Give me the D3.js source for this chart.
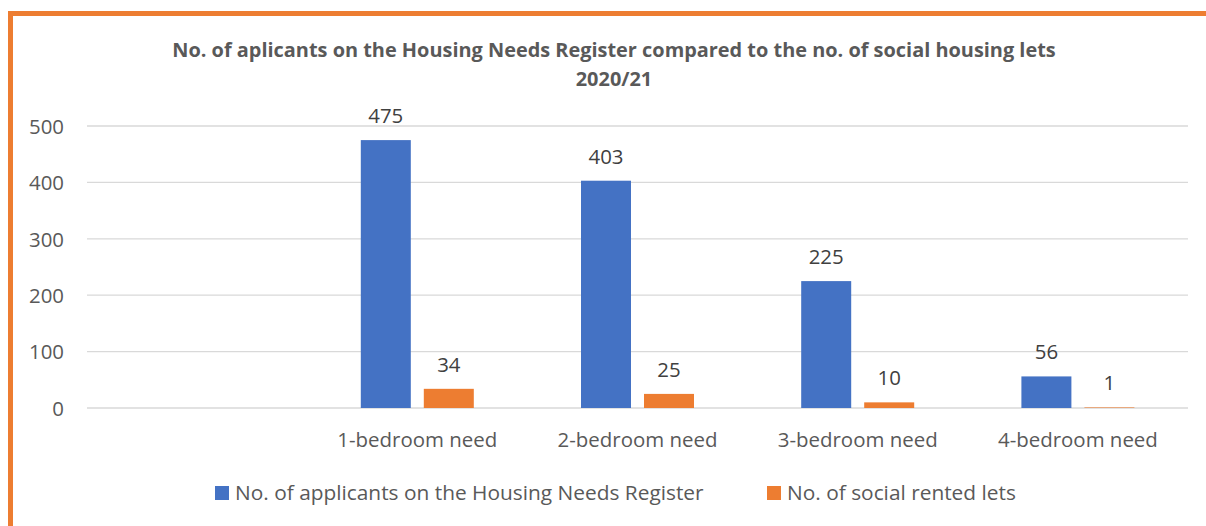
<!DOCTYPE html>
<html><head><meta charset="utf-8">
<script src="https://cdn.jsdelivr.net/npm/d3@7"></script>
<style>body{margin:0;background:#fff}svg{display:block}</style>
</head><body>
<svg id="c" width="1206" height="526"></svg>
<script>
const categories = ["", "1-bedroom need", "2-bedroom need", "3-bedroom need", "4-bedroom need"];
const seriesNames = ["No. of applicants on the Housing Needs Register", "No. of social rented lets"];
const applicants = [null, 475, 403, 225, 56];
const lets = [null, 34, 25, 10, 1];
const yTicks = [0, 100, 200, 300, 400, 500];
const titleLines = ["No. of aplicants on the Housing Needs Register compared to the no. of social housing lets", "2020/21"];
const colors = ["#4472C4", "#ED7D31"];

const svg = d3.select("#c");
const font = "'Open Sans', sans-serif";

// measure helper: font size so that a string spans a given width
function sizeFor(str, width, weight) {
  const t = svg.append("text").attr("font-family", font).attr("font-size", 100)
    .attr("font-weight", weight || "normal").text(str);
  const w = t.node().getComputedTextLength();
  t.remove();
  return 100 * width / w;
}
const fsTick = sizeFor("500", 35);
const fsCat = sizeFor("1-bedroom need", 160);
const fsLeg = sizeFor("No. of social rented lets", 229);
const fsTitle = sizeFor(titleLines[0], 884, "bold");
const fsLab = fsTick;

// border
svg.append("rect").attr("x", 10.5).attr("y", 13.5).attr("width", 1300).attr("height", 600)
  .attr("fill", "none").attr("stroke", "#ED7D31").attr("stroke-width", 5);

const m = {l: 87, r: 1188, t: 126, b: 408};
const x = d3.scaleBand().domain(categories.map((d,i)=>i)).range([m.l, m.r]);
const y = d3.scaleLinear().domain([0, 500]).range([m.b, m.t]);

// gridlines
svg.append("g").selectAll("line").data(yTicks).join("line")
  .attr("x1", m.l).attr("x2", m.r).attr("y1", d=>y(d)).attr("y2", d=>y(d))
  .attr("stroke", "#d9d9d9").attr("stroke-width", 1.3);

const yAxis = d3.axisLeft(y).tickValues(yTicks).tickSize(0).tickPadding(0);
const ga = svg.append("g").attr("transform", `translate(64,0)`).call(yAxis);
ga.select(".domain").remove();
ga.selectAll("text").attr("font-family", font).attr("font-size", fsTick).attr("fill", "#595959").attr("dy", "0.36em");

const xAxis = d3.axisBottom(x).tickFormat(i=>categories[i]).tickSize(0).tickPadding(0);
const gx = svg.append("g").attr("transform", `translate(0,447)`).call(xAxis);
gx.select(".domain").remove();
gx.selectAll("text").attr("font-family", font).attr("font-size", fsCat).attr("fill", "#595959").attr("dy", 0).attr("y", 0);

const barW = 50, gap = 13;
const series = [applicants, lets];
series.forEach((vals, s) => {
  const data = vals.map((v,i)=>({v,i})).filter(d=>d.v!=null);
  const off = s === 0 ? -(gap/2 + barW) : gap/2;
  svg.append("g").selectAll("rect").data(data).join("rect")
    .attr("x", d=>x(d.i) + x.bandwidth()/2 + off)
    .attr("y", d=>y(d.v)).attr("width", barW).attr("height", d=>y(0)-y(d.v))
    .attr("fill", colors[s]);
  svg.append("g").selectAll("text").data(data).join("text")
    .attr("x", d=>x(d.i) + x.bandwidth()/2 + off + barW/2)
    .attr("y", d=>y(d.v) - 17)
    .attr("text-anchor", "middle").attr("font-family", font).attr("font-size", fsLab)
    .attr("fill", "#404040").text(d=>d.v);
});

// title
svg.append("g").selectAll("text").data(titleLines).join("text")
  .attr("x", 614).attr("y", (d,i)=>57 + i*29).attr("text-anchor", "middle")
  .attr("font-family", font).attr("font-weight", "bold").attr("font-size", fsTitle)
  .attr("fill", "#595959").text(d=>d);

// legend
const legX = [215, 767];
const lg = svg.append("g").selectAll("g").data(seriesNames).join("g")
  .attr("transform", (d,i)=>`translate(${legX[i]},0)`);
lg.append("rect").attr("x", 0).attr("y", 486).attr("width", 14).attr("height", 14).attr("fill", (d,i)=>colors[i]);
lg.append("text").attr("x", 20).attr("y", 500).attr("font-family", font)
  .attr("font-size", fsLeg).attr("fill", "#595959").text(d=>d);
</script>
</body></html>
